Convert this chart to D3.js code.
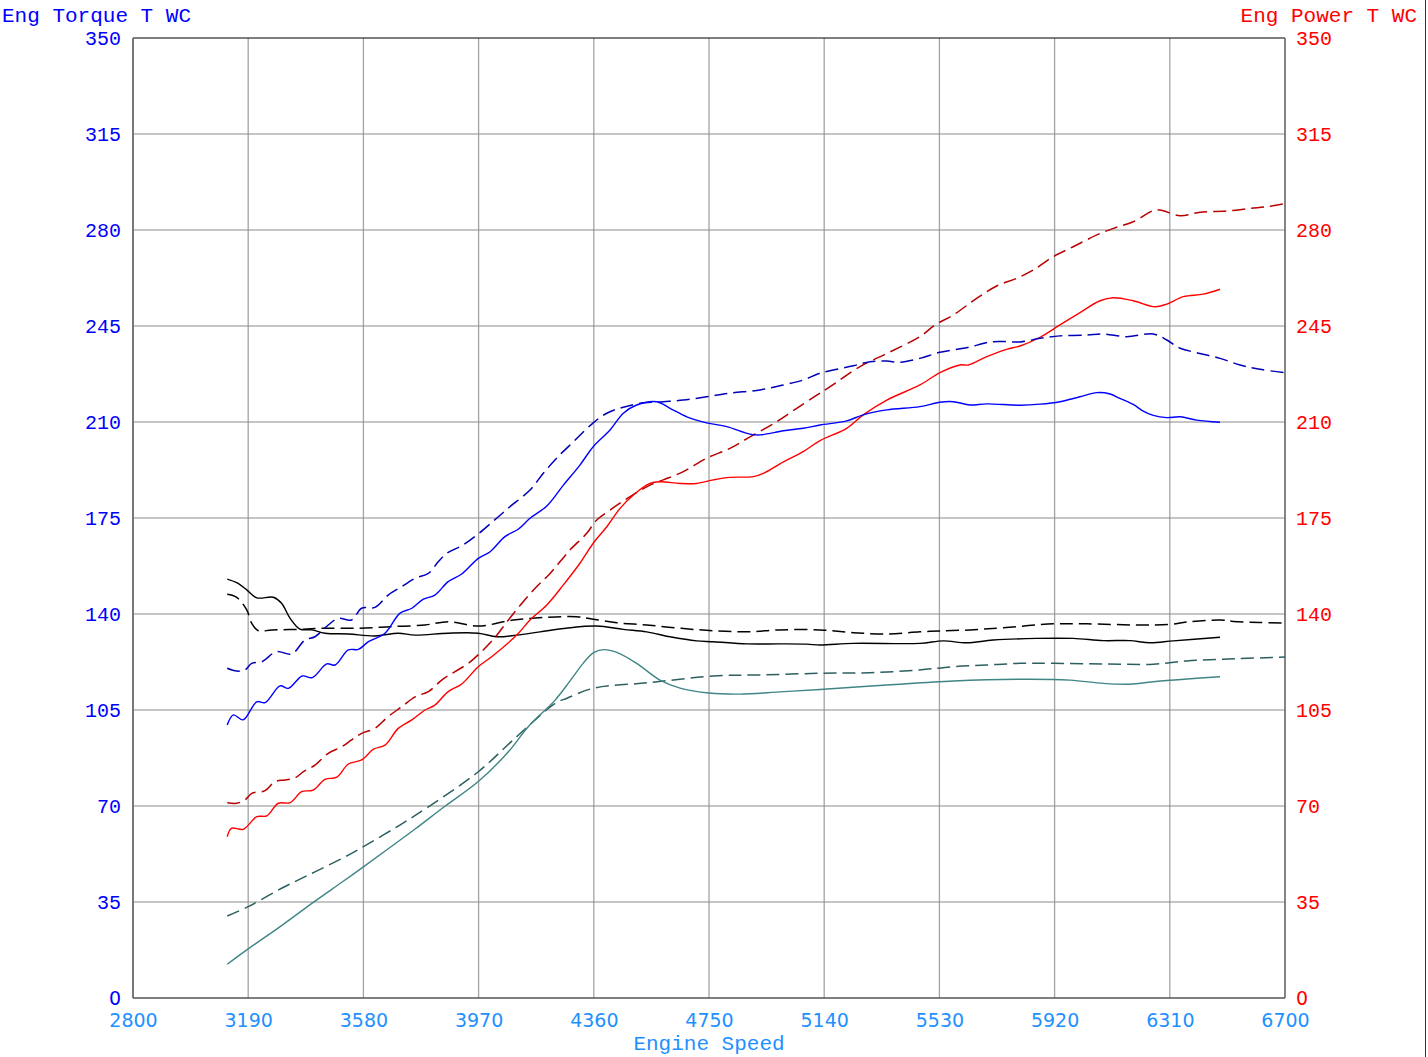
<!DOCTYPE html>
<html>
<head>
<meta charset="utf-8">
<script src="https://cdn.jsdelivr.net/npm/d3@7"></script>
<style>
  html, body { margin: 0; padding: 0; background: #fff; }
  svg { display: block; }
</style>
</head>
<body>
<div id="chart"></div>
<script>
// tick values
var xTicks = [2800, 3190, 3580, 3970, 4360, 4750, 5140, 5530, 5920, 6310, 6700];
var yTicks = [0, 35, 70, 105, 140, 175, 210, 245, 280, 315, 350];

// [rpm, value]
var torqueWC = [[3119,99.5],[3140,103.2],[3173,101.4],[3219,108.0],[3247,107.7],[3298,113.8],[3326,112.9],[3373,117.4],[3407,116.8],[3456,121.8],[3484,121.4],[3529,126.9],[3563,127.1],[3597,129.9],[3653,133.0],[3704,140.3],[3744,142.1],[3783,145.4],[3822,146.9],[3867,151.8],[3913,154.6],[3969,160.3],[4009,162.7],[4059,168.2],[4104,170.9],[4144,174.9],[4201,179.4],[4257,187.0],[4313,194.3],[4358,201.0],[4415,207.1],[4460,213.2],[4505,216.2],[4573,217.4],[4618,215.0],[4675,211.9],[4742,209.7],[4810,208.3],[4889,205.6],[4923,205.3],[5002,206.8],[5069,207.7],[5126,208.9],[5216,210.4],[5272,212.6],[5352,214.4],[5464,215.6],[5532,217.2],[5577,217.4],[5634,216.2],[5690,216.6],[5803,216.1],[5871,216.5],[5938,217.4],[6006,219.2],[6063,220.7],[6108,220.2],[6141,218.6],[6186,216.4],[6220,214.0],[6254,212.4],[6300,211.6],[6345,211.9],[6401,210.7],[6480,209.9]];
var torqueRef = [[3119,120.2],[3151,119.2],[3179,119.6],[3202,122.0],[3236,122.6],[3286,126.3],[3337,125.4],[3382,130.5],[3416,131.7],[3461,136.0],[3495,138.4],[3540,137.8],[3574,142.1],[3619,142.4],[3664,146.9],[3710,150.0],[3755,153.0],[3800,154.8],[3834,159.1],[3862,162.1],[3918,165.2],[3969,169.2],[4031,174.9],[4076,179.1],[4144,185.2],[4189,191.3],[4234,196.8],[4291,202.8],[4358,209.7],[4404,213.2],[4460,215.4],[4528,217.0],[4595,217.4],[4663,218.0],[4742,219.2],[4821,220.5],[4923,221.7],[5002,223.5],[5069,225.3],[5126,227.8],[5239,230.5],[5295,232.0],[5352,232.2],[5397,231.8],[5464,233.2],[5532,235.4],[5622,237.1],[5712,239.3],[5803,239.2],[5871,240.5],[5938,241.4],[6029,241.7],[6085,242.1],[6164,241.1],[6254,242.1],[6300,239.9],[6345,236.9],[6412,235.0],[6480,233.2],[6548,230.8],[6615,229.2],[6700,228.0]];
var powerWC = [[3119,58.8],[3134,61.9],[3173,61.5],[3219,66.1],[3253,66.4],[3292,71.0],[3332,71.2],[3371,75.2],[3410,75.8],[3450,79.7],[3490,80.5],[3529,85.3],[3574,86.8],[3614,90.7],[3653,92.2],[3698,98.3],[3744,101.4],[3789,105.0],[3822,106.8],[3867,111.7],[3913,114.5],[3969,120.8],[4014,124.4],[4099,132.3],[4144,137.8],[4201,143.3],[4257,150.6],[4313,158.5],[4358,165.8],[4404,171.8],[4449,178.5],[4494,183.4],[4550,187.6],[4584,188.2],[4652,187.6],[4708,187.6],[4765,188.9],[4821,189.8],[4900,190.1],[4934,191.3],[5002,195.5],[5069,199.2],[5126,203.2],[5216,207.7],[5272,212.6],[5352,218.0],[5464,223.5],[5532,228.0],[5600,230.8],[5628,230.8],[5690,233.8],[5758,236.5],[5803,237.7],[5871,240.9],[5938,245.4],[6006,249.9],[6074,254.2],[6119,255.3],[6186,254.2],[6260,252.0],[6300,253.0],[6356,255.7],[6423,256.6],[6480,258.4]];
var powerRef = [[3119,71.2],[3151,71.0],[3179,72.2],[3202,74.6],[3247,75.6],[3281,78.9],[3315,79.5],[3348,80.2],[3377,82.5],[3416,84.9],[3461,89.2],[3507,91.6],[3540,94.1],[3574,96.5],[3619,98.3],[3664,102.6],[3710,106.2],[3755,109.8],[3800,111.7],[3845,115.9],[3890,119.0],[3935,122.0],[3980,126.3],[4026,131.5],[4065,137.0],[4121,144.5],[4167,150.0],[4212,154.8],[4279,163.3],[4336,169.4],[4370,174.3],[4415,177.9],[4483,182.8],[4550,187.0],[4595,188.9],[4663,191.9],[4742,196.8],[4821,200.4],[4889,204.6],[4979,210.1],[5047,215.0],[5115,219.8],[5160,222.9],[5261,230.2],[5352,235.0],[5464,241.1],[5515,245.4],[5577,249.0],[5656,255.1],[5724,259.6],[5792,262.4],[5848,265.4],[5916,270.3],[5983,273.9],[6063,278.2],[6119,280.6],[6186,283.0],[6260,287.3],[6288,287.0],[6345,285.2],[6412,286.5],[6503,286.9],[6582,287.9],[6638,288.5],[6694,289.5]];
var blackRun = [[3119,152.7],[3151,151.4],[3185,148.8],[3219,145.9],[3275,146.1],[3303,143.9],[3332,138.4],[3365,134.5],[3405,134.2],[3450,133.0],[3529,132.7],[3619,132.0],[3698,133.0],[3755,132.3],[3867,133.0],[3969,133.0],[4031,131.7],[4099,132.3],[4178,133.5],[4279,135.0],[4370,135.6],[4460,134.4],[4539,133.5],[4618,131.7],[4708,130.2],[4765,129.9],[4878,129.1],[4990,129.1],[5081,129.0],[5126,128.7],[5239,129.3],[5464,129.3],[5543,130.2],[5622,129.5],[5712,130.5],[5859,131.1],[5983,131.1],[6085,130.3],[6175,130.3],[6243,129.5],[6322,130.2],[6480,131.5]];
var blackRef = [[3119,147.2],[3151,146.1],[3185,141.5],[3202,136.6],[3224,133.9],[3270,134.2],[3360,134.4],[3450,134.8],[3563,134.8],[3676,135.4],[3789,136.0],[3867,137.2],[3969,135.6],[4087,137.8],[4201,138.8],[4302,139.0],[4358,138.1],[4438,136.8],[4539,136.0],[4652,134.8],[4765,133.9],[4878,133.5],[4990,134.2],[5126,134.2],[5239,133.2],[5352,132.7],[5464,133.5],[5532,133.8],[5634,134.2],[5746,135.0],[5916,136.4],[6029,136.4],[6198,136.0],[6311,136.2],[6367,137.1],[6480,137.8],[6525,137.3],[6615,136.9],[6700,136.7]];
var tealRun = [[3119,12.3],[3190,17.9],[3303,26.4],[3416,35.3],[3507,42.2],[3580,47.8],[3664,54.4],[3755,61.6],[3856,69.9],[3969,78.9],[4071,89.8],[4138,98.9],[4229,108.6],[4279,115.5],[4324,122.0],[4358,125.8],[4392,127.0],[4438,126.0],[4505,122.0],[4584,115.9],[4652,113.0],[4750,111.2],[4855,110.8],[4990,111.6],[5126,112.5],[5352,114.1],[5577,115.6],[5803,116.2],[5972,115.9],[6085,114.7],[6175,114.4],[6254,115.3],[6480,117.1]];
var tealRef = [[3119,29.9],[3190,33.3],[3303,40.0],[3416,46.0],[3529,52.1],[3580,55.2],[3698,62.7],[3800,69.7],[3969,82.5],[4093,94.7],[4229,107.4],[4269,109.3],[4358,112.9],[4550,115.0],[4765,117.4],[4934,117.8],[5126,118.4],[5295,118.6],[5464,119.6],[5577,120.8],[5690,121.4],[5803,122.0],[5916,122.0],[6085,121.8],[6254,121.7],[6367,122.9],[6537,123.7],[6700,124.3]];

var W = 1428, H = 1057;
var margin = { top: 38, right: 143, bottom: 59, left: 133 };
var width = W - margin.left - margin.right,
    height = H - margin.top - margin.bottom;

var monoFont = "'Courier New', 'Nimbus Mono PS', FreeMono, 'Liberation Mono', monospace";
var sansFont = "'DejaVu Sans', Verdana, sans-serif";

var svg = d3.select("#chart")
    .append("svg")
    .attr("width", W)
    .attr("height", H);

var g = svg.append("g")
    .attr("transform", "translate(" + margin.left + "," + margin.top + ")");

var x = d3.scaleLinear().domain([2800, 6700]).range([0, width]);
var y = d3.scaleLinear().domain([0, 350]).range([height, 0]);

// grid
g.selectAll(".vgrid")
    .data(xTicks.slice(1, -1))
    .enter().append("line")
    .attr("x1", d => x(d)).attr("x2", d => x(d))
    .attr("y1", 0).attr("y2", height)
    .attr("stroke", "#a4a4a4")
    .attr("stroke-width", 1.3);

g.selectAll(".hgrid")
    .data(yTicks.slice(1, -1))
    .enter().append("line")
    .attr("x1", 0).attr("x2", width)
    .attr("y1", d => y(d)).attr("y2", d => y(d))
    .attr("stroke", "#8c8c8c")
    .attr("stroke-width", 1.2);

// frame
g.append("line").attr("x1", 0).attr("x2", width).attr("y1", 0).attr("y2", 0)
    .attr("stroke", "#000").attr("stroke-width", 1.2);
g.append("line").attr("x1", 0).attr("x2", 0).attr("y1", 0).attr("y2", height)
    .attr("stroke", "#777").attr("stroke-width", 2);
g.append("line").attr("x1", width).attr("x2", width).attr("y1", 0).attr("y2", height)
    .attr("stroke", "#666").attr("stroke-width", 1.6);
g.append("line").attr("x1", 0).attr("x2", width).attr("y1", height).attr("y2", height)
    .attr("stroke", "#555").attr("stroke-width", 1.6);

// series
var series = [
    { data: tealRef, color: "#2c5f5f", dash: "13,6", w: 1.5 },
    { data: tealRun, color: "#3f8585", dash: null, w: 1.4 },
    { data: blackRef, color: "#000000", dash: "13,6", w: 1.5 },
    { data: blackRun, color: "#000000", dash: null, w: 1.4 },
    { data: powerRef, color: "#b80000", dash: "13,6", w: 1.5 },
    { data: powerWC, color: "#ff0000", dash: null, w: 1.4 },
    { data: torqueRef, color: "#0000b8", dash: "13,6", w: 1.5 },
    { data: torqueWC, color: "#0000ff", dash: null, w: 1.4 }
];

var line = d3.line()
    .x(function (d) { return x(d[0]); })
    .y(function (d) { return y(d[1]); })
    .curve(d3.curveCatmullRom.alpha(0.5));

series.forEach(function (s) {
    g.append("path")
        .datum(s.data)
        .attr("fill", "none")
        .attr("stroke", s.color)
        .attr("stroke-width", s.w)
        .attr("stroke-dasharray", s.dash)
        .attr("d", line);
});

// axes
var leftAxis = g.append("g")
    .call(d3.axisLeft(y).tickValues(yTicks).tickSize(0).tickPadding(12));
leftAxis.select(".domain").remove();
leftAxis.selectAll("text")
    .attr("fill", "#0000ff")
    .style("font-family", d => d === 0 ? sansFont : monoFont)
    .style("font-size", d => d === 0 ? "19px" : "20px");

var rightAxis = g.append("g")
    .attr("transform", "translate(" + width + ",0)")
    .call(d3.axisRight(y).tickValues(yTicks).tickSize(0).tickPadding(11));
rightAxis.select(".domain").remove();
rightAxis.selectAll("text")
    .attr("fill", "#ff0000")
    .style("font-family", d => d === 0 ? sansFont : monoFont)
    .style("font-size", d => d === 0 ? "19px" : "20px");

var bottomAxis = g.append("g")
    .attr("transform", "translate(0," + height + ")")
    .call(d3.axisBottom(x).tickValues(xTicks).tickSize(0).tickPadding(16).tickFormat(d3.format("d")));
bottomAxis.select(".domain").remove();
bottomAxis.selectAll("text")
    .attr("fill", "#1e90ff")
    .style("font-family", sansFont)
    .style("font-size", "19px");

// titles
svg.append("text")
    .attr("x", 2).attr("y", 22)
    .attr("fill", "#0000ff")
    .style("font-family", monoFont).style("font-size", "21px")
    .text("Eng Torque T WC");

svg.append("text")
    .attr("x", 1417).attr("y", 22)
    .attr("text-anchor", "end")
    .attr("fill", "#ff0000")
    .style("font-family", monoFont).style("font-size", "21px")
    .text("Eng Power T WC");

svg.append("text")
    .attr("x", margin.left + width / 2).attr("y", 1050)
    .attr("text-anchor", "middle")
    .attr("fill", "#1e90ff")
    .style("font-family", monoFont).style("font-size", "21px")
    .text("Engine Speed");

// outer edge line on the right
svg.append("line")
    .attr("x1", 1425.5).attr("x2", 1425.5).attr("y1", 0).attr("y2", H)
    .attr("stroke", "#333").attr("stroke-width", 1);
</script>
</body>
</html>
